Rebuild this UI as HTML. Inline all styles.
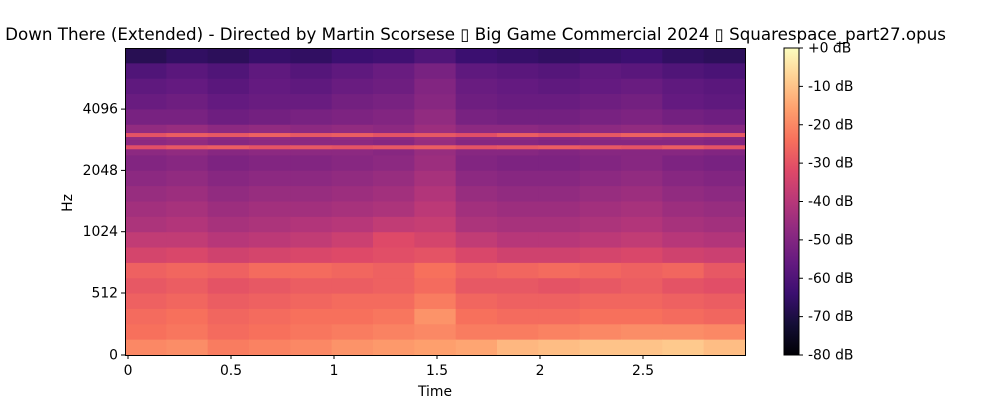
<!DOCTYPE html>
<html><head><meta charset="utf-8"><style>
html,body{margin:0;padding:0;background:#fff;width:1000px;height:400px;overflow:hidden}
svg text{font-family:"DejaVu Sans","Liberation Sans",sans-serif;fill:#000}
</style></head><body>
<svg id="chart" width="1000" height="400" xmlns="http://www.w3.org/2000/svg">
<defs>
<linearGradient id="magma" x1="0" y1="1" x2="0" y2="0">
<stop offset="0" stop-color="#000004"/><stop offset="0.1" stop-color="#140e36"/><stop offset="0.2" stop-color="#3b0f70"/><stop offset="0.3" stop-color="#641a80"/><stop offset="0.4" stop-color="#8c2981"/><stop offset="0.5" stop-color="#b73779"/><stop offset="0.6" stop-color="#de4968"/><stop offset="0.7" stop-color="#f7705c"/><stop offset="0.8" stop-color="#fe9f6d"/><stop offset="0.9" stop-color="#fecf92"/><stop offset="1" stop-color="#fcfdbf"/>
</linearGradient>
</defs>
<text x="946" y="40" text-anchor="end" font-size="16.7">Deep Down There (Extended) - Directed by Martin Scorsese ▯ Big Game Commercial 2024 ▯ Squarespace_part27.opus</text>
<g id="cells"></g>
<g id="bands"></g>
<rect x="125.5" y="48.5" width="620" height="307" fill="none" stroke="#000" stroke-width="1"/>
<g id="xaxis"></g>
<g id="yaxis"></g>
<text x="435" y="396" text-anchor="middle" font-size="13.9">Time</text>
<text x="72" y="203" text-anchor="middle" font-size="13.9" transform="rotate(-90 72 203)">Hz</text>
<rect x="784" y="48" width="15" height="307" fill="url(#magma)" stroke="#000" stroke-width="1"/>
<g id="cbar"></g>
</svg>
<script>
const xTicks=[0,0.5,1,1.5,2,2.5];
const xTickLabels=["0","0.5","1","1.5","2","2.5"];
const yTicks=[0,512,1024,2048,4096];
const cbarTicks=[0,-10,-20,-30,-40,-50,-60,-70,-80];
const duration=2.99;
const bandFreqs=[3055,2660];
const bandLevels=[
[-30,-28,-29,-27,-29,-28,-30,-29,-31,-28,-30,-29,-27,-28,-29],
[-31,-29,-28,-30,-29,-30,-29,-28,-30,-29,-28,-29,-30,-28,-30]
];
const grid=[
[-68,-66,-67,-65,-66,-64,-63,-60,-64,-65,-66,-65,-64,-66,-67],
[-60,-58,-60,-57,-59,-57,-55,-52,-57,-58,-59,-57,-58,-60,-61],
[-57,-56,-58,-56,-57,-55,-54,-50,-55,-56,-57,-56,-55,-57,-58],
[-55,-54,-56,-55,-55,-53,-52,-49,-54,-55,-55,-54,-53,-56,-57],
[-52,-52,-54,-53,-52,-51,-50,-47,-52,-53,-53,-52,-51,-53,-54],
[-47,-46,-48,-47,-48,-47,-48,-45,-48,-48,-49,-48,-47,-48,-49],
[-48,-47,-49,-48,-48,-48,-49,-46,-49,-49,-50,-49,-49,-49,-50],
[-50,-49,-51,-50,-50,-49,-48,-45,-50,-51,-51,-50,-49,-51,-52],
[-48,-47,-49,-48,-48,-47,-46,-43,-48,-49,-49,-48,-47,-49,-50],
[-46,-45,-47,-46,-46,-45,-44,-41,-46,-47,-47,-46,-45,-47,-48],
[-44,-43,-45,-44,-44,-43,-42,-39,-44,-45,-45,-44,-43,-45,-46],
[-42,-41,-43,-42,-41,-40,-38,-37,-42,-43,-43,-42,-41,-43,-44],
[-38,-38,-40,-39,-38,-36,-32,-34,-38,-40,-40,-39,-38,-40,-41],
[-34,-33,-35,-34,-33,-32,-31,-30,-33,-35,-35,-34,-33,-35,-36],
[-27,-26,-27,-25,-25,-26,-27,-24,-27,-26,-25,-26,-27,-26,-29],
[-29,-28,-30,-29,-28,-28,-27,-25,-29,-29,-30,-29,-28,-30,-31],
[-27,-26,-28,-27,-26,-25,-25,-22,-26,-27,-27,-26,-26,-27,-28],
[-25,-24,-26,-25,-24,-24,-23,-18,-24,-25,-25,-24,-24,-25,-26],
[-24,-23,-25,-24,-23,-22,-21,-20,-22,-22,-21,-20,-19,-19,-20],
[-20,-19,-22,-21,-20,-18,-17,-16,-15,-12,-11,-10,-10,-9,-11]
];
const NS="http://www.w3.org/2000/svg";
const X0=125,X1=745,Y0=48,Y1=355;
function xScale(t){return 128+t*206;}
function yScale(hz){if(hz<=512)return Y1-hz/512*62;return 293-Math.log2(hz/512)*61.3;}
function cScale(db){return Y0+(-db)/80*(Y1-Y0);}
const stops=[[0,0,4],[20,14,54],[59,15,112],[100,26,128],[140,41,129],[183,55,121],[222,73,104],[247,112,92],[254,159,109],[254,207,146],[252,253,191]];
function magma(db){let v=Math.max(0,Math.min(1,(db+80)/80))*10;let i=Math.min(9,Math.floor(v)),f=v-i;
const a=stops[i],b=stops[i+1];return `rgb(${a.map((c,k)=>Math.round(c+(b[k]-c)*f)).join(",")})`;}
function mk(tag,attrs,parent){const e=document.createElementNS(NS,tag);for(const k in attrs)e.setAttribute(k,attrs[k]);parent.appendChild(e);return e;}
const cells=document.getElementById("cells");
const nr=grid.length,nc=grid[0].length,cw=(X1-X0)/nc,rh=(Y1-Y0)/nr;
grid.forEach((row,r)=>row.forEach((v,c)=>{
 const e=mk("rect",{x:X0+c*cw,y:Y0+r*rh,width:cw+0.6,height:rh+0.6,fill:magma(v)},cells);
 
 
}));
const bands=document.getElementById("bands");
bandFreqs.forEach((hz,b)=>{const y=yScale(hz);
 bandLevels[b].forEach((v,c)=>{
  const e=mk("rect",{x:X0+c*cw,y:y-2,width:cw+0.6,height:4,fill:magma(v)},bands);
  
  
 });
});
const xa=document.getElementById("xaxis");
xTicks.forEach((t,i)=>{const x=xScale(t);
 const l=mk("line",{x1:x,x2:x,y1:355,y2:359,stroke:"#000"},xa);
 
 
 const tx=mk("text",{x:x,y:375,"text-anchor":"middle","font-size":"13.9"},xa);tx.textContent=xTickLabels[i];
 
 
});
const ya=document.getElementById("yaxis");
yTicks.forEach(h=>{const y=yScale(h);
 const l=mk("line",{x1:121,x2:125,y1:y,y2:y,stroke:"#000"},ya);
 
 
 const tx=mk("text",{x:118,y:y+4.5,"text-anchor":"end","font-size":"13.9"},ya);tx.textContent=String(h);
 
 
});
const cb=document.getElementById("cbar");
cbarTicks.forEach(d=>{const y=cScale(d);
 const l=mk("line",{x1:799,x2:803,y1:y,y2:y,stroke:"#000"},cb);
 
 
 const tx=mk("text",{x:808,y:y+4.5,"font-size":"13.9"},cb);tx.textContent=(d===0?"+0":d)+" dB";
 
 
});
</script>
</body></html>
